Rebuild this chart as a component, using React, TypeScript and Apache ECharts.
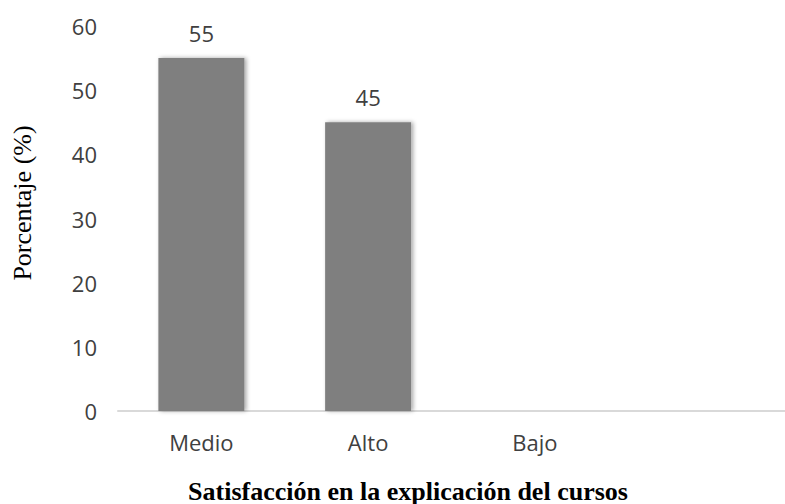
import React, { useEffect, useRef } from "react";
import * as echarts from "echarts";

const categories = ["Medio", "Alto", "Bajo"];
const values = [55, 45, 0];
const yTicks = [0, 10, 20, 30, 40, 50, 60];
const xTitle = "Satisfacción en la explicación del cursos";
const yTitle = "Porcentaje (%)";

export default function App() {
  const ref = useRef<HTMLDivElement>(null);
  useEffect(() => {
    document.body.style.margin = "0";
    if (!ref.current) return;
    const chart = echarts.init(ref.current, null, { renderer: "svg" });
    const sans = "'Open Sans', 'Noto Sans', sans-serif";
    const serif = "'Liberation Serif', 'DejaVu Serif', serif";
    chart.setOption({
      animation: false,
      backgroundColor: "#ffffff",
      grid: { left: 118, top: 26, width: 680, height: 385 },
      xAxis: {
        type: "category",
        data: categories,
        max: 3,
        axisLine: { lineStyle: { color: "#d9d9d9", width: 2 } },
        axisTick: { show: false },
        axisLabel: {
          color: "#404040",
          fontSize: 22,
          fontFamily: sans,
          margin: 20,
          formatter: (v: string) => (categories.includes(v) ? v : ""),
        },
      },
      yAxis: {
        type: "value",
        min: yTicks[0],
        max: yTicks[yTicks.length - 1],
        interval: 10,
        axisLine: { show: false },
        axisTick: { show: false },
        splitLine: { show: false },
        axisLabel: {
          color: "#404040",
          fontSize: 22,
          fontFamily: sans,
          margin: 21,
        },
      },
      series: [
        {
          type: "bar",
          data: values.map((v) => (v === 0 ? null : v)),
          barWidth: 86,
          itemStyle: {
            color: "#7f7f7f",
            shadowColor: "rgba(0,0,0,0.35)",
            shadowBlur: 4,
            shadowOffsetX: 2,
            shadowOffsetY: 0,
          },
          label: {
            show: true,
            position: "top",
            distance: 14,
            color: "#404040",
            fontSize: 22,
            fontFamily: sans,
          },
        },
      ],
      graphic: [
        {
          type: "text",
          x: 22,
          y: 203,
          rotation: Math.PI / 2,
          style: {
            text: yTitle,
            fontSize: 26,
            fontFamily: serif,
            fill: "#000",
            align: "center",
            verticalAlign: "middle",
          },
        },
        {
          type: "text",
          x: 408,
          y: 491,
          style: {
            text: xTitle,
            fontSize: 26,
            fontWeight: "bold",
            fontFamily: serif,
            fill: "#000",
            align: "center",
            verticalAlign: "middle",
          },
        },
      ],
    });
    return () => chart.dispose();
  }, []);
  return <div ref={ref} style={{ width: 785, height: 504 }} />;
}
